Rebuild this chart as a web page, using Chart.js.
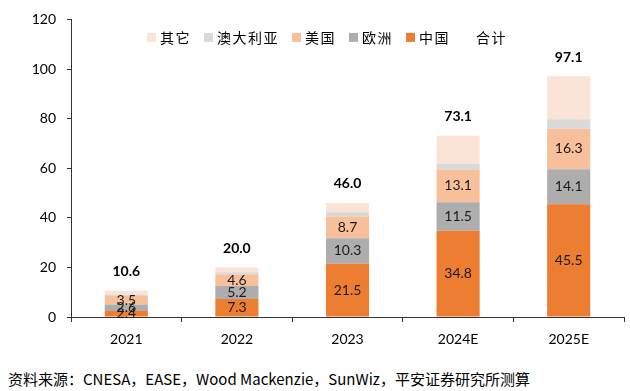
<!DOCTYPE html>
<html>
<head>
<meta charset="utf-8">
<script src="https://cdn.jsdelivr.net/npm/chart.js@4.4.1/dist/chart.umd.min.js"></script>
<style>
    body { margin: 0; background: #fff; }
    #wrap { position: relative; width: 630px; height: 355px; }
    #note {
        position: absolute; left: 8px; top: 368px;
        font: 15px "Noto Sans CJK SC", sans-serif; color: #000; white-space: nowrap;
    }
</style>
</head>
<body>
<div id="wrap"><canvas id="myChart"></canvas></div>
<div id="note">资料来源：CNESA，EASE，Wood Mackenzie，SunWiz，平安证券研究所测算</div>

<script>
// data (GWh)
const years = ['2021', '2022', '2023', '2024E', '2025E'];
const china = [2.4, 7.3, 21.5, 34.8, 45.5];
const europe = [2.6, 5.2, 10.3, 11.5, 14.1];
const usa = [3.5, 4.6, 8.7, 13.1, 16.3];
const australia = [0.6, 0.9, 1.7, 2.4, 3.8];
const others = [1.5, 2.0, 3.8, 11.3, 17.4];
const totals = [10.6, 20.0, 46.0, 73.1, 97.1];
const yTicks = [0, 20, 40, 60, 80, 100, 120];
// legend order as in the original
const legendOrder = [4, 3, 2, 1, 0, 5];

const numFont = 'Lato, "Open Sans", sans-serif';
const cjkFont = '"Noto Sans CJK SC", sans-serif';

// value labels inside bars + totals above
const barLabels = {
    id: 'barLabels',
    afterDatasetsDraw(chart) {
        const ctx = chart.ctx;
        ctx.save();
        ctx.textAlign = 'center';
        ctx.textBaseline = 'middle';
        chart.data.datasets.forEach((ds, i) => {
            const meta = chart.getDatasetMeta(i);
            if (meta.hidden) return;
            meta.data.forEach((el, j) => {
                const p = el.getProps(['x', 'y', 'base'], true);
                if (ds.showValues) {
                    ctx.font = '14px ' + numFont;
                    ctx.fillStyle = '#1a1a1a';
                    ctx.fillText(ds.data[j].toFixed(1), p.x, (p.y + p.base) / 2);
                }
                if (ds.isTotal) {
                    ctx.font = 'bold 14px ' + numFont;
                    ctx.fillStyle = '#000';
                    ctx.fillText(ds.data[j].toFixed(1), p.x, p.y - 19);
                }
            });
        });
        ctx.restore();
    }
};

// one-row legend sitting inside the plot area
const innerLegend = {
    id: 'innerLegend',
    afterDraw(chart) {
        const ctx = chart.ctx;
        const area = chart.chartArea;
        let x = area.left + 76;
        const y = area.top + 18;
        ctx.save();
        ctx.font = '14px ' + cjkFont;
        ctx.letterSpacing = '1.5px';
        ctx.textBaseline = 'middle';
        ctx.textAlign = 'left';
        legendOrder.forEach(i => {
            const ds = chart.data.datasets[i];
            if (!ds.isTotal) {
                ctx.fillStyle = ds.backgroundColor;
                ctx.fillRect(x, y - 4.5, 9, 9);
            }
            ctx.fillStyle = '#000';
            ctx.fillText(ds.label, x + 13, y);
            x += 13 + ctx.measureText(ds.label).width + 13;
        });
        ctx.restore();
    }
};

const ctx = document.getElementById('myChart');
new Chart(ctx, {
    type: 'bar',
    data: {
        labels: years,
        datasets: [
            { label: '中国', data: china, backgroundColor: '#ED7D31', showValues: true },
            { label: '欧洲', data: europe, backgroundColor: '#ADADAD', showValues: true },
            { label: '美国', data: usa, backgroundColor: '#F8C09A', showValues: true },
            { label: '澳大利亚', data: australia, backgroundColor: '#D9D9D9' },
            { label: '其它', data: others, backgroundColor: '#FBE4D6' },
            {
                type: 'line', label: '合计', data: totals, stack: 'total', isTotal: true,
                showLine: false, pointRadius: 0,
                borderColor: 'rgba(0,0,0,0)', backgroundColor: 'rgba(0,0,0,0)'
            }
        ]
    },
    options: {
        responsive: true,
        maintainAspectRatio: false,
        animation: false,
        layout: { padding: { top: 17, right: 6, bottom: 10, left: 0 } },
        datasets: {
            bar: { categoryPercentage: 1, barPercentage: 0.39 }
        },
        plugins: {
            tooltip: { enabled: false },
            legend: { display: false }
        },
        scales: {
            x: {
                stacked: true,
                offset: true,
                grid: { offset: true, drawOnChartArea: false, tickLength: 5, color: '#333' },
                border: { color: '#333' },
                ticks: { color: '#000', padding: 9, font: { size: 14, family: numFont } },
                afterFit: (s) => { s.height = 28; }
            },
            y: {
                stacked: true,
                min: 0,
                max: 120,
                afterBuildTicks: (s) => { s.ticks = yTicks.map(v => ({ value: v })); },
                grid: { drawOnChartArea: false, tickLength: 4, color: '#333' },
                border: { color: '#333' },
                ticks: { color: '#000', padding: 11, font: { size: 14, family: numFont } },
                afterFit: (s) => { s.width = 71; }
            }
        }
    },
    plugins: [barLabels, innerLegend]
});
</script>
</body>
</html>
